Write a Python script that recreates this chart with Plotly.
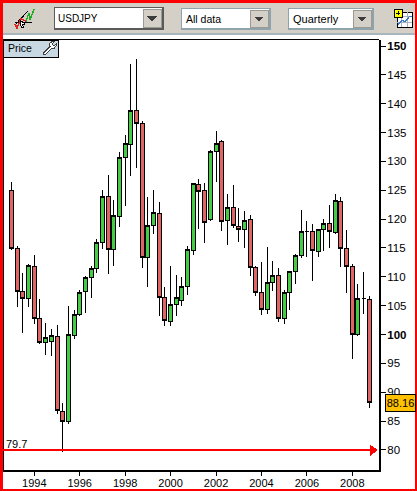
import plotly.graph_objects as go

quarters = [f"{y}-{m}-01" for y in range(1993, 2009) for m in ("01", "04", "07", "10")]
opens = [125.0,114.9,107.5,106.3,111.8,102.8,98.7,98.8,99.7,86.7,85.0,99.9,103.4,107.5,109.9,111.4,
         116.0,124.0,114.8,120.4,130.7,133.0,138.9,136.6,113.4,118.9,121.0,106.5,102.3,105.2,105.9,108.4,
         114.6,126.0,125.0,120.0,131.8,133.5,119.8,122.0,118.8,118.2,120.0,111.7,107.3,104.4,109.0,110.3,
         102.8,107.3,110.9,113.7,117.9,117.9,114.4,118.2,119.3,117.7,123.1,114.9,111.8,100.0,106.3,106.1]
highs = [126.4,115.3,110.6,112.2,113.8,106.1,102.0,101.0,101.7,88.1,105.0,104.3,107.7,110.1,111.8,116.5,
         125.0,127.6,123.3,131.6,134.6,146.9,147.7,137.0,123.8,125.0,122.9,108.2,111.9,110.3,109.9,115.3,
         126.3,126.9,126.2,132.0,135.3,133.7,124.4,125.9,122.0,121.4,120.8,111.8,112.5,115.1,112.7,111.6,
         107.8,111.1,113.9,121.5,119.6,119.1,118.3,120.0,122.4,124.4,123.8,118.1,112.3,108.7,110.8,106.6]
lows = [114.65,104.8,100.3,104.8,101.9,98.4,96.5,96.2,86.3,79.7,84.5,99.3,103.3,103.8,106.3,110.7,
        114.8,110.5,111.9,118.7,122.3,127.4,128.9,111.6,108.3,117.5,103.3,101.4,101.4,103.3,105.0,106.9,
        113.7,118.3,115.9,119.6,126.5,118.0,115.6,118.4,116.1,115.0,110.2,106.7,103.4,103.6,107.6,102.1,
        101.9,104.3,108.8,113.2,113.4,109.2,113.4,114.5,115.0,117.5,111.7,107.2,95.8,99.8,103.6,87.3]
closes = [114.9,107.4,106.3,112.0,102.8,98.6,99.5,99.9,86.9,85.0,100.0,103.5,107.3,109.9,111.5,116.0,
          124.0,114.8,120.7,130.7,133.1,138.9,136.6,113.4,118.9,121.2,106.5,102.5,105.2,106.5,108.4,114.8,
          126.2,124.8,119.5,131.8,133.1,119.6,122.0,118.9,118.2,119.8,111.7,107.3,104.4,109.0,110.3,102.8,
          107.3,110.9,113.7,117.9,117.9,114.6,118.2,119.3,117.9,123.3,114.9,111.8,100.0,106.3,106.3,88.16]

price_ticks = [80, 85, 90, 95, 100, 105, 110, 115, 120, 125, 130, 135, 140, 145, 150]
price_labels = ["80", "85", "90", "95", "<b>100</b>", "105", "110", "115", "120", "125", "130", "135", "140", "145", "<b>150</b>"]
year_ticks = ["1994-01-01", "1996-01-01", "1998-01-01", "2000-01-01", "2002-01-01", "2004-01-01", "2006-01-01", "2008-01-01"]
year_labels = ["1994", "1996", "1998", "2000", "2002", "2004", "2006", "2008"]
low_value = 79.7
low_line = 80
last_price = 88.16

W, H = 417, 491
L, R, T, B = 3, 379, 40, 470
FONT = "Liberation Sans"
GREEN, REDF = "#44CC44", "#E06666"
GRAY = "#D4D0C8"


def px(v):
    return (v - L) / (R - L)


def py(v):
    return (B - v) / (B - T)


shapes = []


def rect(x0, y0, x1, y1, fill, line=None, lw=1):
    shapes.append(dict(type="rect", xref="paper", yref="paper", x0=px(x0), x1=px(x1), y0=py(y0), y1=py(y1),
                       fillcolor=fill, line=dict(color=line or "rgba(0,0,0,0)", width=lw if line else 0)))


def path(points, fill=None, line=None, lw=1, close=False):
    d = "M " + " L ".join(f"{px(a):.5f},{py(b):.5f}" for a, b in points) + (" Z" if close else "")
    shapes.append(dict(type="path", xref="paper", yref="paper", path=d,
                       fillcolor=fill or "rgba(0,0,0,0)", line=dict(color=line or "rgba(0,0,0,0)", width=lw if line else 0)))


# toolbar
rect(0, 0, W, 33, GRAY)
rect(0, 33, W, 35, "#A9B5BC")


def dropdown(x0, x1, y0, y1, border, lw):
    rect(x0, y0, x1, y1, "#FFFFFF", border, lw)
    rect(x1 - 20, y0 + 1.5, x1 - 2, y1 - 1.5, GRAY, "#9A9A94", 1)
    cx, cy = x1 - 11, (y0 + y1) / 2
    path([(cx - 5, cy - 2), (cx + 5, cy - 2), (cx, cy + 3)], fill="#3C3C3C", close=True)


dropdown(54.5, 163, 7.5, 29, "#5A5A5A", 1.5)
dropdown(181.5, 270, 8.5, 29, "#8FA3AD", 1.5)
dropdown(288.5, 373, 8.5, 29, "#8FA3AD", 1.5)

# left toolbar icon
path([(15, 25), (28, 11)], line="#000000", lw=1)
path([(15, 22), (32, 22)], line="#000000", lw=1)
path([(15, 24), (17, 28), (21, 19), (26, 21), (29, 13), (30, 20), (34, 9)], line="#22AA22", lw=1.5)
path([(15, 24), (17, 28), (21, 19), (26, 21)], line="#DD2222", lw=1.5)
path([(20, 20), (25, 24), (22.5, 25), (24, 28), (22, 28), (20.5, 25.5)], fill="#FFFFFF", line="#000000", lw=1, close=True)

# right toolbar icon
rect(397, 12, 412.5, 27, "#FFFFFF", "#000000", 1)
path([(402, 12), (402, 27)], line="#AAB4C0", lw=1)
path([(407, 12), (407, 27)], line="#AAB4C0", lw=1)
path([(397, 17), (412, 17)], line="#AAB4C0", lw=1)
path([(397, 22), (412, 22)], line="#AAB4C0", lw=1)
path([(398, 25), (402, 20), (405, 22), (409, 17), (412, 16)], line="#3C78C8", lw=1.2)
rect(394.5, 9.5, 402, 17, "#FFFF00", "#000000", 1)
path([(396.5, 13.2), (400, 13.2)], line="#000000", lw=1)
path([(398.2, 11.4), (398.2, 15)], line="#000000", lw=1)

# frame lines
path([(3.5, 470), (3.5, 39.5), (379, 39.5)], line="#000000", lw=1)

# price tab
rect(3.5, 40, 58, 57, "#C8D9E4", "#000000", 1)
path([(44, 52.5), (50, 46.5), (49.5, 43.5), (52, 41.5), (54, 41.5), (52, 44), (54, 46), (56, 44), (56, 46), (54, 48.5),
      (51.5, 48.5), (46, 54), (44, 54)], fill="#FFFFFF", line="#404040", lw=1, close=True)

# red level line and arrow
shapes.append(dict(type="line", xref="paper", yref="y", x0=0, x1=px(372), y0=low_line, y1=low_line,
                   line=dict(color="#FF0000", width=2)))
path([(370, 444.5), (378, 450), (370, 456)], fill="#FF0000", close=True)

# page border
rect(0, 0, W, 2.5, "#FF0000")
rect(0, 0, 2.5, H, "#FF0000")
rect(415, 0, W, H, "#FF0000")
rect(0, 489, W, H, "#FF0000")


def label(x, y, text, size=12, color="#000000"):
    return dict(xref="paper", yref="paper", x=px(x), y=py(y), text=text, showarrow=False, xanchor="left", yanchor="middle",
                font=dict(family=FONT, size=size, color=color), align="left", borderpad=0)


annotations = [
    label(57, 18.5, "USDJPY", 10),
    label(184.5, 19, "All data", 10.5),
    label(291.5, 19, "Quarterly", 11),
    label(6.5, 48.5, "Price", 10.5),
    dict(xref="paper", yref="y", x=px(5), y=low_line, yshift=-1, text=str(low_value), showarrow=False, xanchor="left", yanchor="bottom",
         font=dict(family=FONT, size=11, color="#000000"), borderpad=0),
    dict(xref="paper", yref="y", x=px(400), y=last_price, text=f"{last_price:.2f}", showarrow=False, xanchor="center", yanchor="middle",
         width=29, height=16, bgcolor="#FFC000", bordercolor="#000000", borderwidth=1, borderpad=0,
         font=dict(family=FONT, size=11, color="#000000")),
]

fig = go.Figure(go.Candlestick(
    x=quarters, open=opens, high=highs, low=lows, close=closes,
    increasing=dict(line=dict(color="#000000", width=1), fillcolor=GREEN),
    decreasing=dict(line=dict(color="#000000", width=1), fillcolor=REDF),
    whiskerwidth=0, showlegend=False, hoverinfo="skip",
))

fig.update_layout(
    width=W, height=H, margin=dict(l=L, r=W - R, t=T, b=H - B, pad=0, autoexpand=False),
    paper_bgcolor="#FFFFFF", plot_bgcolor="#FFFFFF", boxgap=0.28, boxgroupgap=0, showlegend=False,
    shapes=shapes, annotations=annotations, font=dict(family=FONT, color="#000000"),
    xaxis=dict(type="date", range=["1992-08-15", "2009-03-05"], rangeslider=dict(visible=False), automargin=False,
               tickmode="array", tickvals=year_ticks, ticktext=year_labels, ticks="outside", ticklen=4, tickwidth=1,
               ticklabelstandoff=-2,
               tickcolor="#000000", showgrid=False, zeroline=False, showline=True, linecolor="#000000", linewidth=2,
               tickfont=dict(family=FONT, size=11, color="#000000")),
    yaxis=dict(side="right", range=[76.53, 151.04], tickmode="array", tickvals=price_ticks, ticktext=price_labels, automargin=False,
               ticks="outside", ticklen=5, tickwidth=1, tickcolor="#000000", showgrid=False, zeroline=False, showline=True,
               ticklabelstandoff=-1,
               linecolor="#000000", linewidth=2, tickfont=dict(family=FONT, size=11.5, color="#000000")),
)

fig.write_html("out.html", config=dict(displayModeBar=False),
               post_script="document.body.style.margin='0';document.body.style.overflow='hidden';"
                           "document.querySelectorAll('.main-svg').forEach(s=>s.setAttribute('shape-rendering','crispEdges'));")
